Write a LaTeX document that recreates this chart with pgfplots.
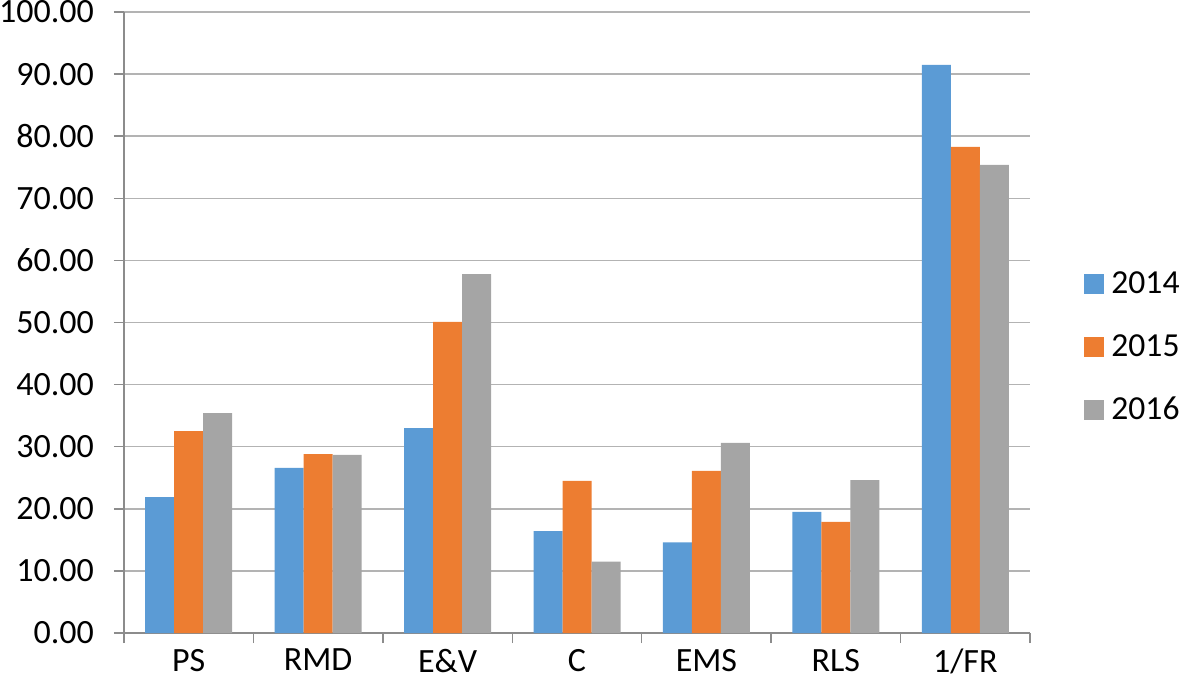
\documentclass[border=0pt]{standalone}
\usepackage{fontspec}
\setmainfont{Carlito}
\usepackage{pgfplots}
\pgfplotsset{compat=1.18}
\definecolor{c14}{HTML}{5B9BD5}
\definecolor{c15}{HTML}{ED7D31}
\definecolor{c16}{HTML}{A5A5A5}
\definecolor{gridc}{HTML}{B3B3B3}
\definecolor{axc}{HTML}{8C8C8C}
\begin{document}
\begin{tikzpicture}
\useasboundingbox (-62pt,-29.5pt) rectangle (528.5pt,316.5pt);
\begin{axis}[at={(0,0)}, anchor=south west, scale only axis,
 width=453pt, height=310.5pt,
 ybar=0pt, bar width=14.5pt,
 xmin=-0.5, xmax=6.5, ymin=0, ymax=100,
 xtick={0,...,6}, xticklabels={PS,RMD,E\&V,C,EMS,RLS,1/FR},
 minor xtick={-0.5,0.5,...,6.5},
 ytick={0,10,...,100},
 axis x line*=bottom, axis y line*=left,
 axis line style={axc, line width=0.75pt, -},
 ymajorgrids, grid style={gridc, line width=0.75pt},
 tick align=outside,
 major x tick style={draw=none},
 minor x tick style={axc, line width=0.75pt},
 major y tick style={axc, line width=0.75pt},
 minor tick length=5pt, major tick length=5pt,
 y tick label style={xshift=-6.5pt, /pgf/number format/.cd, fixed, fixed zerofill, precision=2, assume math mode=true},
 x tick label style={yshift=0.5pt},
 ticklabel style={font=\fontsize{17}{20}\selectfont},
 legend style={at={(1,0.46)}, anchor=west, xshift=24pt, draw=none, fill=none,
   font=\fontsize{16.8}{20}\selectfont, row sep=15pt},
 legend cell align=left,
 legend image code/.code={\fill[#1] (0pt,-5pt) rectangle (10pt,5pt); \path (11.5pt,0pt);},
]
\addplot[fill=c14, draw=none] coordinates {(0,21.9) (1,26.6) (2,33.0) (3,16.4) (4,14.6) (5,19.5) (6,91.5)};
\addplot[fill=c15, draw=none] coordinates {(0,32.5) (1,28.8) (2,50.1) (3,24.5) (4,26.1) (5,17.9) (6,78.3)};
\addplot[fill=c16, draw=none] coordinates {(0,35.4) (1,28.7) (2,57.8) (3,11.5) (4,30.6) (5,24.6) (6,75.4)};
\legend{2014,2015,2016}
\end{axis}
\end{tikzpicture}
\end{document}
